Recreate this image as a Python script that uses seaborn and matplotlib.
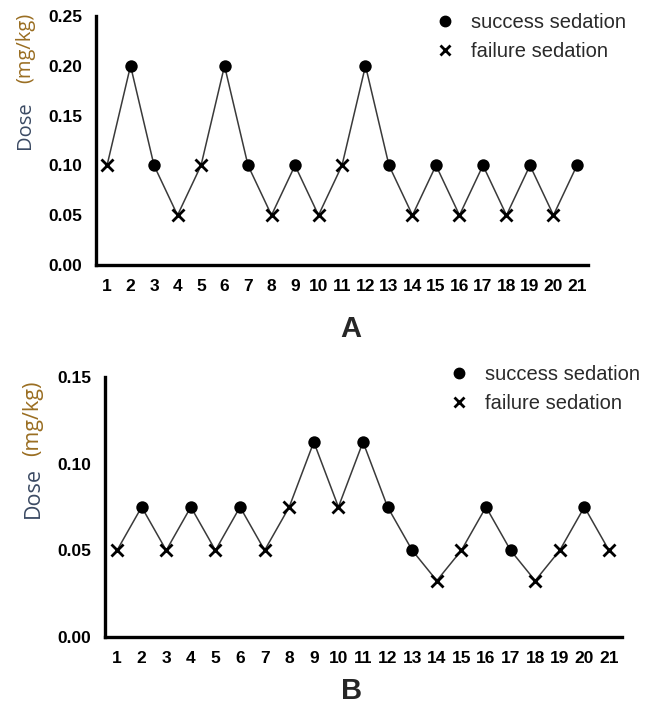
import matplotlib
matplotlib.use("Agg")
import matplotlib.pyplot as plt
import seaborn as sns
import pandas as pd
from matplotlib.lines import Line2D

sns.set_theme(style="white")
plt.rcParams['font.family'] = ['Liberation Sans', 'DejaVu Sans']

trials = list(range(1, 22))
dose_a = [0.10, 0.20, 0.10, 0.05, 0.10, 0.20, 0.10, 0.05, 0.10, 0.05, 0.10,
          0.20, 0.10, 0.05, 0.10, 0.05, 0.10, 0.05, 0.10, 0.05, 0.10]
outcome_a = ['F', 'S', 'S', 'F', 'F', 'S', 'S', 'F', 'S', 'F', 'F',
             'S', 'S', 'F', 'S', 'F', 'S', 'F', 'S', 'F', 'S']
dose_b = [0.05, 0.075, 0.05, 0.075, 0.05, 0.075, 0.05, 0.075, 0.1125, 0.075, 0.1125,
          0.075, 0.05, 0.0325, 0.05, 0.075, 0.05, 0.0325, 0.05, 0.075, 0.05]
outcome_b = ['F', 'S', 'F', 'S', 'F', 'S', 'F', 'F', 'S', 'F', 'S',
             'S', 'S', 'F', 'F', 'S', 'S', 'F', 'F', 'S', 'F']
yticks_a = [0.00, 0.05, 0.10, 0.15, 0.20, 0.25]
yticks_b = [0.00, 0.05, 0.10, 0.15]
legend_labels = ['success sedation', 'failure sedation']

W, H = 646, 707
fig = plt.figure(figsize=(W / 100, H / 100), dpi=100)


def px_axes(left, right, top, bottom):
    return fig.add_axes([left / W, 1 - bottom / H, (right - left) / W, (bottom - top) / H])


def draw(ax, dose, outcome, yticks, xlim, legend_xy, letter, letter_xy):
    df = pd.DataFrame({'trial': trials, 'dose': dose, 'outcome': outcome})
    sns.lineplot(data=df, x='trial', y='dose', color='#3a3a3a', linewidth=1.1, ax=ax,
                 zorder=2)
    s = df[df.outcome == 'S']
    f = df[df.outcome == 'F']
    sns.scatterplot(data=s, x='trial', y='dose', marker='o', s=80, color='black',
                    edgecolor='black', linewidth=0, ax=ax, zorder=3)
    sns.scatterplot(data=f, x='trial', y='dose', marker='x', s=75, color='black',
                    linewidth=2.0, ax=ax, zorder=3)
    ax.set_xlim(*xlim)
    ax.set_ylim(yticks[0], yticks[-1])
    ax.set_xticks(trials)
    ax.set_xticklabels([str(t) for t in trials], fontsize=12.5, fontweight='bold')
    ax.set_yticks(yticks)
    ax.set_yticklabels([f"{v:.2f}" for v in yticks], fontsize=12.5, fontweight='bold')
    for side in ['top', 'right']:
        ax.spines[side].set_visible(False)
    for side in ['left', 'bottom']:
        ax.spines[side].set_linewidth(2.4)
        ax.spines[side].set_color('black')
    ax.tick_params(axis='both', direction='out', length=8, width=2.4, color='black',
                   pad=2, labelcolor='black')
    ax.set_xlabel('')
    ax.set_ylabel('')
    ax.grid(False)
    handles = [Line2D([], [], marker='o', color='black', linestyle='none', markersize=7.5),
               Line2D([], [], marker='x', color='black', linestyle='none', markersize=7,
                      markeredgewidth=2.0)]
    fig.legend(handles, legend_labels, loc='upper left',
               bbox_to_anchor=(legend_xy[0] / W, 1 - legend_xy[1] / H),
               frameon=False, fontsize=14.5, handlelength=0.9, handletextpad=0.85,
               labelspacing=0.5, borderpad=0, borderaxespad=0,
               labelcolor='#2a2a2a')
    fig.text(letter_xy[0] / W, 1 - letter_xy[1] / H, letter, fontsize=21,
             fontweight='bold', ha='center', va='center')


ax_a = px_axes(96, 588, 16, 265)
draw(ax_a, dose_a, outcome_a, yticks_a, (0.53, 21.47), (436, 13), 'A', (351, 329))
ax_b = px_axes(105, 622, 377, 637)
draw(ax_b, dose_b, outcome_b, yticks_b, (0.51, 21.53), (450, 365), 'B', (352, 691))

label_font = ['Open Sans', 'DejaVu Sans']
dose_color = '#3b4a63'
unit_color = '#9a6e22'
fig.text(25 / W, 1 - 125 / H, 'Dose', rotation=90, ha='center', va='center',
         fontsize=14.5, color=dose_color, family=label_font)
fig.text(25 / W, 1 - 48 / H, '(mg/kg)', rotation=90, ha='center', va='center',
         fontsize=14.5, color=unit_color, family=label_font)
fig.text(33 / W, 1 - 493 / H, 'Dose', rotation=90, ha='center', va='center',
         fontsize=15.5, color=dose_color, family=label_font)
fig.text(33 / W, 1 - 418 / H, '(mg/kg)', rotation=90, ha='center', va='center',
         fontsize=15.5, color=unit_color, family=label_font)

fig.savefig('out.png', dpi=100)
